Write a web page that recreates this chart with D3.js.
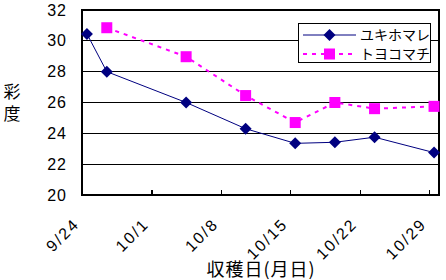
<!DOCTYPE html>
<html>
<head>
<meta charset="utf-8">
<script src="https://cdn.jsdelivr.net/npm/d3@7"></script>
<style>
	body { margin: 0; background: #fff; }
	text { font-family: "Liberation Sans", "Noto Sans CJK JP", sans-serif; }
	.jp { font-family: "Noto Sans CJK JP", sans-serif; }
</style>
</head>
<body>
<div id="vis"></div>
<script>
// harvest dates (month/day) and colour values
const dates = ["9/24", "9/26", "10/4", "10/10", "10/15", "10/19", "10/23", "10/29"];
const yukihomare = [30.45, 28.0, 26.0, 24.3, 23.35, 23.42, 23.75, 22.75];
const toyokomachi = [null, 30.85, 28.97, 26.45, 24.7, 26.0, 25.6, 25.75];
const seriesNames = ["ユキホマレ", "トヨコマチ"];
const xTicks = ["9/24", "10/1", "10/8", "10/15", "10/22", "10/29"];
const yTicks = [20, 22, 24, 26, 28, 30, 32];

const W = 446, H = 280;
const margin = { left: 82, right: 7, top: 10, bottom: 85 };

const parse = (s) => {
	const [m, d] = s.split("/").map(Number);
	return new Date(2003, m - 1, d);
};
// points sit in the middle of their day
const mid = (s) => d3.timeHour.offset(parse(s), 12);

const svg = d3.select("#vis").append("svg")
	.attr("width", W)
	.attr("height", H);

const x = d3.scaleTime()
	.domain([parse("9/24"), parse("10/30")])
	.range([margin.left, W - margin.right]);
const y = d3.scaleLinear()
	.domain([20, 32])
	.range([H - margin.bottom, margin.top]);

// gridlines
svg.append("g")
	.selectAll("line")
	.data(yTicks)
	.join("line")
	.attr("x1", margin.left)
	.attr("x2", W - margin.right)
	.attr("y1", d => y(d))
	.attr("y2", d => y(d))
	.attr("stroke", "#000")
	.attr("stroke-width", 1.2)
	.attr("shape-rendering", "crispEdges");

// plot frame
svg.append("rect")
	.attr("x", margin.left)
	.attr("y", margin.top)
	.attr("width", W - margin.right - margin.left)
	.attr("height", H - margin.bottom - margin.top)
	.attr("fill", "none")
	.attr("stroke", "#000")
	.attr("stroke-width", 1.2)
	.attr("shape-rendering", "crispEdges");

// x axis ticks point inward
const xAxis = svg.append("g")
	.attr("transform", `translate(0,${H - margin.bottom})`)
	.call(d3.axisBottom(x)
		.tickValues(xTicks.map(parse))
		.tickSize(-5)
		.tickFormat((d, i) => xTicks[i]));
xAxis.select(".domain").remove();
xAxis.selectAll(".tick line")
	.attr("stroke", "#000")
	.attr("stroke-width", 1.2)
	.attr("shape-rendering", "crispEdges");
xAxis.selectAll(".tick text")
	.attr("font-size", 16)
	.attr("letter-spacing", 2)
	.attr("fill", "#000")
	.attr("text-anchor", "end")
	.attr("dy", 0)
	.attr("y", 0)
	.attr("transform", "translate(-2,30) rotate(-45)");

// y axis labels
const yAxis = svg.append("g")
	.attr("transform", `translate(${margin.left},0)`)
	.call(d3.axisLeft(y).tickValues(yTicks).tickSize(0).tickPadding(15));
yAxis.select(".domain").remove();
yAxis.selectAll(".tick text")
	.attr("font-size", 16)
	.attr("letter-spacing", 1)
	.attr("fill", "#000");

// axis titles
svg.append("text")
	.attr("class", "jp")
	.attr("x", 261)
	.attr("y", 276)
	.attr("text-anchor", "middle")
	.attr("font-size", 18)
	.attr("letter-spacing", 1)
	.text("収穫日(月日)");

svg.append("text")
	.attr("class", "jp")
	.attr("x", 12)
	.attr("y", 83)
	.attr("writing-mode", "vertical-rl")
	.attr("font-size", 17)
	.attr("letter-spacing", 5)
	.text("彩度");

// Yukihomare line
const yukiData = dates.map((d, i) => ({ d, v: yukihomare[i] }));
const toyoData = dates.map((d, i) => ({ d, v: toyokomachi[i] })).filter(p => p.v !== null);

const line = d3.line()
	.x(p => x(mid(p.d)))
	.y(p => y(p.v));

svg.append("path")
	.datum(yukiData)
	.attr("d", line)
	.attr("fill", "none")
	.attr("stroke", "#000080")
	.attr("stroke-width", 1);

svg.append("path")
	.datum(toyoData)
	.attr("d", line)
	.attr("fill", "none")
	.attr("stroke", "#ff00ff")
	.attr("stroke-width", 2)
	.attr("stroke-dasharray", "4,5");

const diamond = d3.symbol().type(d3.symbolSquare).size(72);

svg.append("g")
	.selectAll("path")
	.data(yukiData)
	.join("path")
	.attr("d", diamond)
	.attr("transform", p => `translate(${x(mid(p.d))},${y(p.v)}) rotate(45)`)
	.attr("fill", "#000080");

svg.append("g")
	.selectAll("rect")
	.data(toyoData)
	.join("rect")
	.attr("x", p => x(mid(p.d)) - 5.5)
	.attr("y", p => y(p.v) - 5.5)
	.attr("width", 11)
	.attr("height", 11)
	.attr("fill", "#ff00ff");

// legend
const legend = svg.append("g");
legend.append("rect")
	.attr("x", 298.5)
	.attr("y", 23.5)
	.attr("width", 132)
	.attr("height", 39)
	.attr("fill", "#fff")
	.attr("stroke", "#000")
	.attr("stroke-width", 1);

const rows = [
	{ name: seriesNames[0], color: "#000080", dash: null, w: 1, ly: 35 },
	{ name: seriesNames[1], color: "#ff00ff", dash: "4,5", w: 2, ly: 54 }
];
rows.forEach((r, i) => {
	legend.append("line")
		.attr("x1", 303)
		.attr("x2", 356)
		.attr("y1", r.ly)
		.attr("y2", r.ly)
		.attr("stroke", r.color)
		.attr("stroke-width", r.w)
		.attr("stroke-dasharray", r.dash);
	if (i === 0) {
		legend.append("path")
			.attr("d", diamond)
			.attr("transform", `translate(329.5,${r.ly}) rotate(45)`)
			.attr("fill", r.color);
	} else {
		legend.append("rect")
			.attr("x", 324)
			.attr("y", r.ly - 5.5)
			.attr("width", 11)
			.attr("height", 11)
			.attr("fill", r.color);
	}
	legend.append("text")
		.attr("class", "jp")
		.attr("x", 360)
		.attr("y", r.ly + 5)
		.attr("font-size", 14)
		.text(r.name);
});
</script>
</body>
</html>
